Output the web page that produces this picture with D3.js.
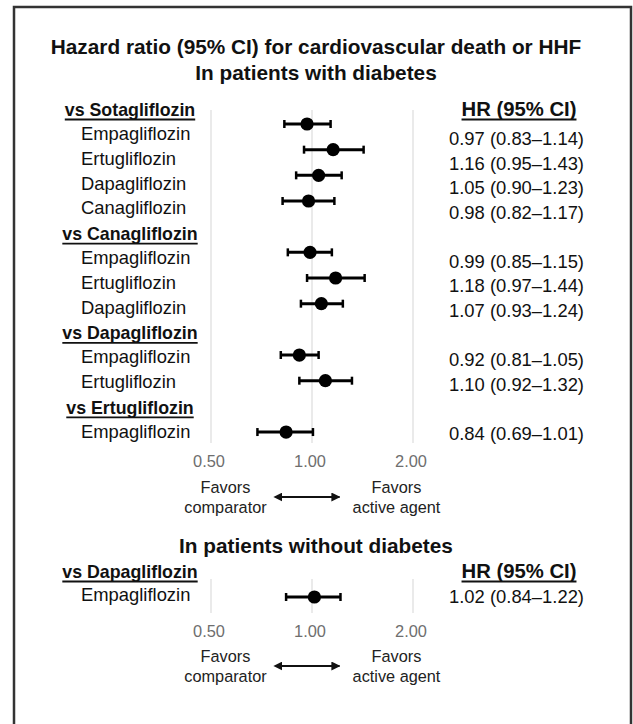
<!DOCTYPE html>
<html>
<head>
<meta charset="utf-8">
<script src="https://cdn.jsdelivr.net/npm/d3@7"></script>
<style>
  body { margin: 0; background: #fff; }
  svg { display: block; font-family: "Liberation Sans", Arial, Helvetica, sans-serif; }
</style>
</head>
<body>
<div id="chart"></div>
<script>
// --- data ---
var comparators = ["vs Sotagliflozin", "vs Canagliflozin", "vs Dapagliflozin", "vs Ertugliflozin"];
var agents     = ["Empagliflozin", "Ertugliflozin", "Dapagliflozin", "Canagliflozin",
                  "Empagliflozin", "Ertugliflozin", "Dapagliflozin",
                  "Empagliflozin", "Ertugliflozin",
                  "Empagliflozin"];
var groupOf    = [0, 0, 0, 0, 1, 1, 1, 2, 2, 3];
var hr         = [0.97, 1.16, 1.05, 0.98, 0.99, 1.18, 1.07, 0.92, 1.10, 0.84];
var lower      = [0.83, 0.95, 0.90, 0.82, 0.85, 0.97, 0.93, 0.81, 0.92, 0.69];
var upper      = [1.14, 1.43, 1.23, 1.17, 1.15, 1.44, 1.24, 1.05, 1.32, 1.01];

// patients without diabetes
var comparators2 = ["vs Dapagliflozin"];
var agents2 = ["Empagliflozin"];
var hr2 = [1.02], lower2 = [0.84], upper2 = [1.22];

var tickValues = [0.5, 1, 2];

var width = 633, height = 724;
var fmt = d3.format(".2f");

var svg = d3.select("#chart").append("svg")
    .attr("width", width)
    .attr("height", height);

// frame
svg.append("rect")
    .attr("x", 14).attr("y", 7)
    .attr("width", 617).attr("height", 740)
    .attr("fill", "none")
    .attr("stroke", "#333")
    .attr("stroke-width", 2.5);

var defs = svg.append("defs");
["start", "end"].forEach(function (k) {
  defs.append("marker")
      .attr("id", "arr-" + k)
      .attr("viewBox", "0 0 10 10")
      .attr("refX", k == "end" ? 9 : 1).attr("refY", 5)
      .attr("markerWidth", 4.5).attr("markerHeight", 4.5)
      .attr("orient", "auto-start-reverse")
      .append("path")
      .attr("d", "M0,0 L10,5 L0,10 Z")
      .attr("fill", "#111");
});

var xScale = d3.scaleLog().domain([0.5, 2]).range([210.5, 412.5]);

function title(txt, y) {
  svg.append("text")
      .attr("x", 316).attr("y", y)
      .attr("text-anchor", "middle")
      .attr("font-size", "20.8px")
      .attr("font-weight", "bold")
      .attr("fill", "#111")
      .text(txt);
}

function underlined(txt, x, y, size, anchor) {
  var t = svg.append("text")
      .attr("x", x).attr("y", y)
      .attr("text-anchor", anchor)
      .attr("font-size", size)
      .attr("font-weight", "bold")
      .attr("fill", "#111")
      .text(txt);
  var w = t.node().getComputedTextLength();
  var x0 = anchor == "middle" ? x - w / 2 : x;
  svg.append("line")
      .attr("x1", x0).attr("x2", x0 + w)
      .attr("y1", y + 3.5).attr("y2", y + 3.5)
      .attr("stroke", "#111")
      .attr("stroke-width", 1.8);
}

// gridlines, tick labels and favors legend for one panel
function axisBlock(gridTop, gridBottom, tickY, favY) {
  var grid = svg.append("g")
      .attr("transform", "translate(0," + gridTop + ")")
      .call(d3.axisTop(xScale).tickValues(tickValues)
            .tickSize(-(gridBottom - gridTop)).tickFormat(""));
  grid.select(".domain").remove();
  grid.selectAll(".tick line").attr("stroke", "#e3e3e3").attr("stroke-width", 1.5);

  var ax = svg.append("g")
      .attr("transform", "translate(0," + tickY + ")")
      .call(d3.axisBottom(xScale).tickValues(tickValues)
            .tickSize(0).tickPadding(0).tickFormat(fmt));
  ax.select(".domain").remove();
  ax.selectAll("text")
      .attr("y", 0).attr("dy", 0)
      .attr("dx", -2)
      .attr("font-size", "16.4px")
      .attr("font-family", "Liberation Sans, Arial, sans-serif")
      .attr("fill", "#6e6e6e");

  var leftX = xScale(0.5) + 15, rightX = xScale(2) - 16;
  [["Favors", "comparator", leftX], ["Favors", "active agent", rightX]].forEach(function (f) {
    svg.append("text").attr("x", f[2]).attr("y", favY)
        .attr("text-anchor", "middle").attr("font-size", "16.3px").attr("fill", "#222")
        .text(f[0]);
    svg.append("text").attr("x", f[2]).attr("y", favY + 20)
        .attr("text-anchor", "middle").attr("font-size", "16.3px").attr("fill", "#222")
        .text(f[1]);
  });

  svg.append("line")
      .attr("x1", xScale(1) - 30).attr("x2", xScale(1) + 28)
      .attr("y1", favY + 4).attr("y2", favY + 4)
      .attr("stroke", "#111").attr("stroke-width", 2)
      .attr("marker-start", "url(#arr-start)")
      .attr("marker-end", "url(#arr-end)");
}

function estimate(g, rows) {
  var r = g.selectAll(".est").data(rows).enter().append("g").attr("class", "est");
  r.append("line")
      .attr("x1", function (d) { return xScale(d.lo); })
      .attr("x2", function (d) { return xScale(d.hi); })
      .attr("y1", function (d) { return d.y; })
      .attr("y2", function (d) { return d.y; })
      .attr("stroke", "#000").attr("stroke-width", 3);
  ["lo", "hi"].forEach(function (k) {
    r.append("line")
        .attr("x1", function (d) { return xScale(d[k]); })
        .attr("x2", function (d) { return xScale(d[k]); })
        .attr("y1", function (d) { return d.y - 4; })
        .attr("y2", function (d) { return d.y + 4; })
        .attr("stroke", "#000").attr("stroke-width", 2.5);
  });
  r.append("circle")
      .attr("cx", function (d) { return xScale(d.hr); })
      .attr("cy", function (d) { return d.y; })
      .attr("r", 6.6)
      .attr("fill", "#000");
}

// ---------------- panel 1: with diabetes ----------------
title("Hazard ratio (95% CI) for cardiovascular death or HHF", 54);
title("In patients with diabetes", 80);

axisBlock(110, 443, 467, 493);

// label rows (header + agents), text rows and plot rows
var labelRows = [], plotRows = [];
var j = 0, k = 0;
comparators.forEach(function (c, gi) {
  labelRows.push({ header: true, text: c, j: j });
  j++;
  if (gi > 0) k++;
  agents.forEach(function (a, i) {
    if (groupOf[i] != gi) return;
    labelRows.push({ header: false, text: a, j: j, i: i });
    plotRows.push({ hr: hr[i], lo: lower[i], hi: upper[i], y: 124 + k * 25.67 });
    j++; k++;
  });
});

labelRows.forEach(function (d) {
  if (d.header) {
    underlined(d.text, 130, 116 + d.j * 24.83, "17.8px", "middle");
  } else {
    svg.append("text")
        .attr("x", 81).attr("y", 140 + (d.j - 1) * 24.83)
        .attr("font-size", "18.4px").attr("fill", "#111")
        .text(d.text);
    svg.append("text")
        .attr("x", 516.5).attr("y", 145 + (d.j - 1) * 24.58)
        .attr("text-anchor", "middle")
        .attr("font-size", "18.4px").attr("fill", "#111")
        .text(fmt(hr[d.i]) + " (" + fmt(lower[d.i]) + "\u2013" + fmt(upper[d.i]) + ")");
  }
});
underlined("HR (95% CI)", 519, 116, "20.3px", "middle");

estimate(svg.append("g"), plotRows);

// ---------------- panel 2: without diabetes ----------------
title("In patients without diabetes", 553);
axisBlock(579, 613, 637, 662);

underlined(comparators2[0], 130, 578, "17.8px", "middle");
underlined("HR (95% CI)", 519, 578, "20.3px", "middle");
agents2.forEach(function (a, i) {
  svg.append("text")
      .attr("x", 81).attr("y", 601)
      .attr("font-size", "18.4px").attr("fill", "#111")
      .text(a);
  svg.append("text")
      .attr("x", 516.5).attr("y", 603)
      .attr("text-anchor", "middle")
      .attr("font-size", "18.4px").attr("fill", "#111")
      .text(fmt(hr2[i]) + " (" + fmt(lower2[i]) + "\u2013" + fmt(upper2[i]) + ")");
});
estimate(svg.append("g").attr("class", "p2"),
  hr2.map(function (v, i) { return { hr: v, lo: lower2[i], hi: upper2[i], y: 597 }; }));
</script>
</body>
</html>
